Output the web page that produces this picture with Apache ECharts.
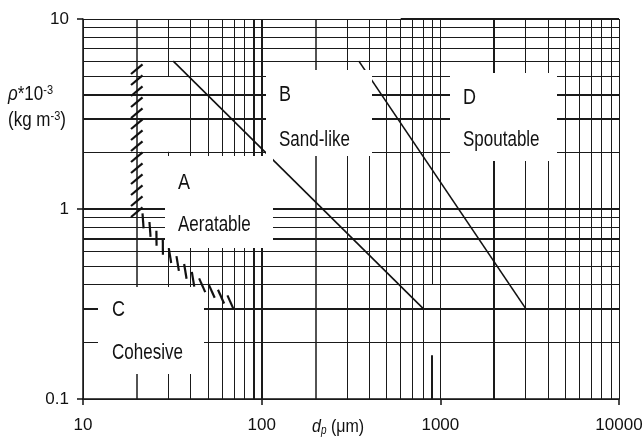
<!DOCTYPE html>
<html>
<head>
<meta charset="utf-8">
<title>Powder classification</title>
<script src="https://cdn.jsdelivr.net/npm/echarts@6/dist/echarts.min.js"></script>
<style>
  html, body { margin: 0; padding: 0; background: #fff; }
  #chart { width: 644px; height: 438px; }
</style>
</head>
<body>
<div id="chart"></div>
<script>
// tick labels / grid structure
var xDecades = [10, 100, 1000];
var yDecades = [0.1, 1];
var gridSteps = [1, 2, 3, 4, 5, 6, 7, 8, 9];
var xBold = [90, 100, 2000];
var xMedium = [20, 200];
var yBold = [0.3, 0.7, 1, 3, 4];

// group boundaries (dp in um, rho*10^-3 in kg m^-3)
var abBoundary = [[32, 6], [800, 0.3]];
var bdBoundary = [[350, 6], [3000, 0.3]];
var caBoundary = [[20, 6], [20, 0.95], [24, 0.77], [29, 0.6], [42, 0.42], [72, 0.31]];

// group labels
var groupLetters = ["A", "B", "C", "D"];
var groupNames = ["Aeratable", "Sand-like", "Cohesive", "Spoutable"];

var FONT = "Liberation Sans, Arial, sans-serif";

function round(v) {
  return +v.toPrecision(6);
}

function buildGridLines() {
  var lines = [];
  xDecades.forEach(function(d) {
    gridSteps.forEach(function(s) {
      var v = round(s * d);
      if (v === 30 || v === 900) return;
      var w = 1;
      if (xBold.indexOf(v) > -1) w = 2;
      else if (xMedium.indexOf(v) > -1) w = 1.5;
      lines.push({ xAxis: v, lineStyle: { width: w } });
    });
  });
  lines.push({ xAxis: 10000 });
  yDecades.forEach(function(d) {
    gridSteps.forEach(function(s) {
      var v = round(s * d);
      var w = yBold.indexOf(v) > -1 ? 2 : 1;
      lines.push({ yAxis: v, lineStyle: { width: w } });
    });
  });
  lines.push({ yAxis: 10 });
  // broken lines of the scanned sheet
  lines.push([{ coord: [30, 10] }, { coord: [30, 5] }]);
  lines.push([{ coord: [30, 2] }, { coord: [30, 0.1] }]);
  lines.push([{ coord: [900, 10] }, { coord: [900, 0.4] }]);
  lines.push([{ coord: [900, 0.17], lineStyle: { width: 2 } }, { coord: [900, 0.1] }]);
  lines.push([{ coord: [600, 10], lineStyle: { width: 2 } }, { coord: [10000, 10] }]);
  return lines;
}

// hatched C/A boundary, marks turn with the path
function renderHatch(params, api) {
  if (params.dataIndex !== 0) return;
  var pts = caBoundary.map(function(p) { return api.coord(p); });
  var children = [];
  var step = 11, half = 7.5;
  var dist = 8;
  for (var i = 0; i < pts.length - 1; i++) {
    var a = pts[i], b = pts[i + 1];
    var dx = b[0] - a[0], dy = b[1] - a[1];
    var len = Math.sqrt(dx * dx + dy * dy);
    var pathAng = Math.atan2(dy, dx);
    var turn = (pathAng > 1.3 ? 50 : 35) * Math.PI / 180;
    var ang = pathAng + turn;
    var cx = Math.cos(ang) * half, cy = Math.sin(ang) * half;
    while (dist <= len) {
      var t = dist / len;
      var px = a[0] + dx * t, py = a[1] + dy * t;
      children.push({
        type: "line",
        shape: { x1: px - cx, y1: py - cy, x2: px + cx, y2: py + cy },
        style: { stroke: "#111", lineWidth: 2.2 }
      });
      dist += step;
    }
    dist -= len;
  }
  return { type: "group", children: children };
}

function box(x, y, w, h) {
  return { type: "rect", z: 5, shape: { x: x, y: y, width: w, height: h }, style: { fill: "#fff" } };
}

function label(text, x, y, size) {
  return {
    type: "text", z: 20, x: x, y: y, scaleY: 1.25,
    style: { text: text, fill: "#111", font: size + "px " + FONT, textVerticalAlign: "middle" }
  };
}

function initChart() {
  var myChart = echarts.init(document.getElementById("chart"));
  var option = {
    animation: false,
    textStyle: { fontFamily: FONT },
    grid: { left: 83, right: 25, top: 19, bottom: 39, outerBoundsMode: "none" },
    xAxis: {
      type: "log",
      logBase: 10,
      min: 10,
      max: 10000,
      axisLine: { lineStyle: { color: "#111", width: 1.5 } },
      axisTick: { length: 6, lineStyle: { color: "#111", width: 1.5 } },
      axisLabel: { color: "#111", fontSize: 17, margin: 18, formatter: function(v) { return String(round(v)); } },
      splitLine: { show: false }
    },
    yAxis: {
      type: "log",
      logBase: 10,
      min: 0.1,
      max: 10,
      axisLine: { lineStyle: { color: "#111", width: 1.5 } },
      axisTick: { length: 6, lineStyle: { color: "#111", width: 1.5 } },
      axisLabel: { color: "#111", fontSize: 17, margin: 14, formatter: function(v) { return String(round(v)); } },
      splitLine: { show: false }
    },
    graphic: [
      box(165, 156, 108, 92),
      box(266, 70, 106, 86),
      box(98, 287, 106, 87),
      box(450, 73, 107, 88),
      label(groupLetters[0], 178, 183, 18),
      label(groupNames[0], 178, 225, 17),
      label(groupLetters[1], 279, 95, 18),
      label(groupNames[1], 279, 140, 17),
      label(groupLetters[2], 112, 310, 18),
      label(groupNames[2], 112, 353, 17),
      label(groupLetters[3], 463, 98, 18),
      label(groupNames[3], 463, 140, 17),
      {
        type: "text", z: 20, x: 8, y: 94, scaleY: 1.2,
        style: {
          text: "{i|\u03c1}*10{s|-3}", fill: "#111", font: "17px " + FONT, textVerticalAlign: "middle",
          rich: { i: { fontStyle: "italic", fontSize: 17 }, s: { fontSize: 11, verticalAlign: "top" } }
        }
      },
      {
        type: "text", z: 20, x: 8, y: 120, scaleY: 1.2,
        style: {
          text: "(kg m{s|-3})", fill: "#111", font: "17px " + FONT, textVerticalAlign: "middle",
          rich: { s: { fontSize: 11, verticalAlign: "top" } }
        }
      },
      {
        type: "text", z: 20, x: 312, y: 427, scaleY: 1.2,
        style: {
          text: "{i|d}{p|p} (\u03bcm)", fill: "#111", font: "16px " + FONT, textVerticalAlign: "middle",
          rich: { i: { fontStyle: "italic", fontSize: 16 }, p: { fontStyle: "italic", fontSize: 10, verticalAlign: "bottom" } }
        }
      }
    ],
    series: [
      {
        name: "grid",
        type: "line",
        data: [],
        z: 1,
        silent: true,
        markLine: {
          z: 1,
          silent: true,
          symbol: ["none", "none"],
          label: { show: false },
          lineStyle: { color: "#1a1a1a", width: 1, type: "solid" },
          data: buildGridLines()
        }
      },
      {
        name: "A/B",
        type: "line",
        data: abBoundary,
        symbol: "none",
        z: 2,
        lineStyle: { color: "#111", width: 1.6 }
      },
      {
        name: "B/D",
        type: "line",
        data: bdBoundary,
        symbol: "none",
        z: 2,
        lineStyle: { color: "#111", width: 1.6 }
      },
      {
        name: "C/A",
        type: "custom",
        z: 10,
        silent: true,
        data: [[20, 1]],
        renderItem: renderHatch
      }
    ]
  };
  myChart.setOption(option);
}

initChart();
</script>
</body>
</html>
